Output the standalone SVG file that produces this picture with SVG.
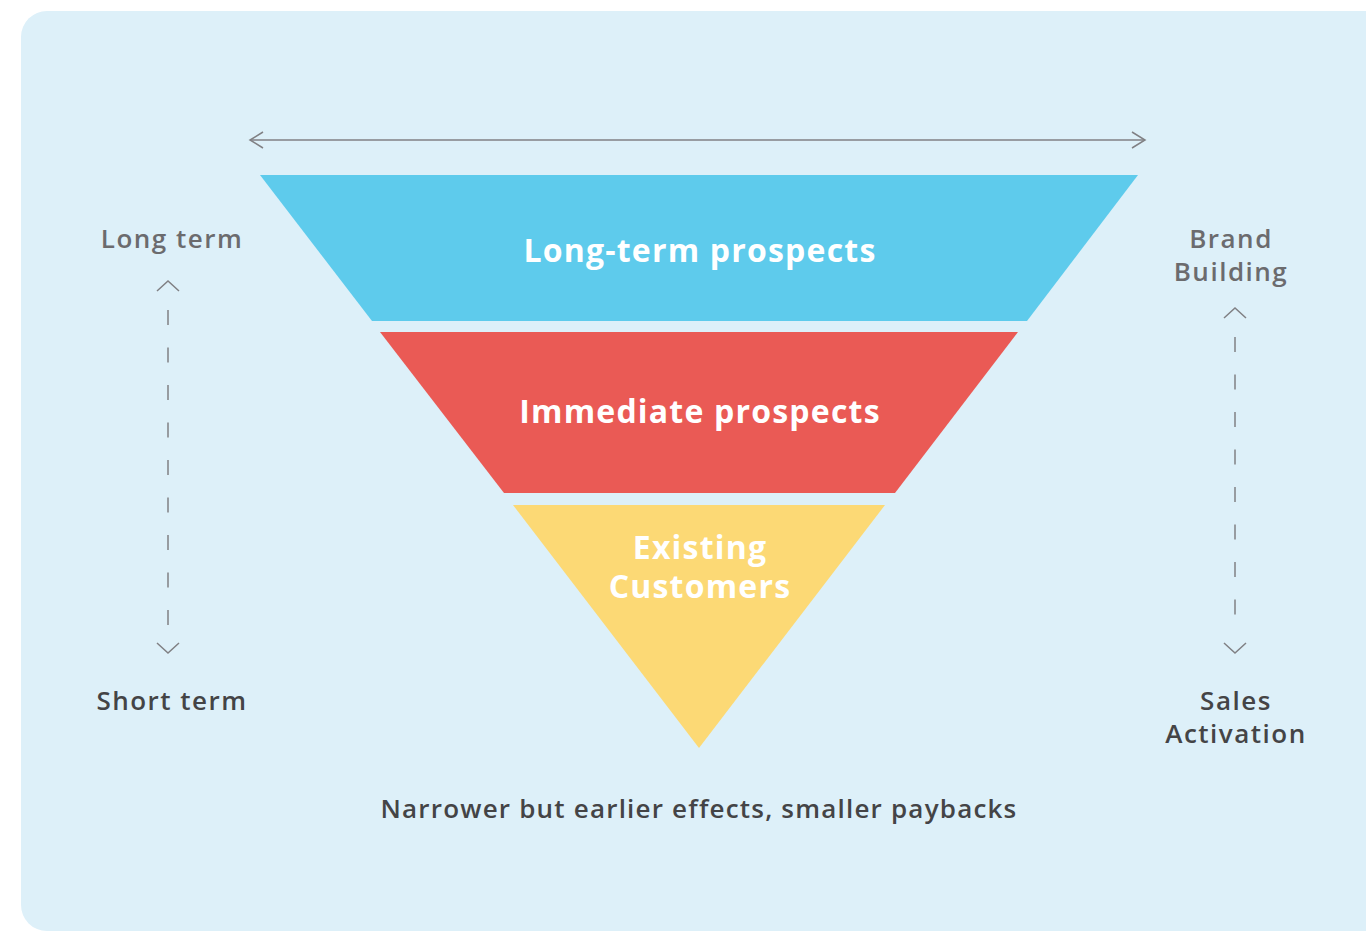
<svg xmlns="http://www.w3.org/2000/svg" width="1366" height="932" viewBox="0 0 1366 932">
  <defs>
    <style>
      .inner { font-family: "Open Sans", "Liberation Sans", sans-serif; font-weight: 700; font-size: 32px; letter-spacing: 1.2px; fill: #ffffff; text-anchor: middle; }
      .side { font-family: "Open Sans", "Liberation Sans", sans-serif; font-weight: 600; font-size: 26px; letter-spacing: 1.5px; text-anchor: middle; }
      .note { letter-spacing: 1.2px; }
      .soft { fill: #6b6b6e; }
      .dark { fill: #444446; }
      .axis { stroke: #808084; stroke-width: 1.5; fill: none; }
      .dash { stroke-dasharray: 15 22.5; }
    </style>
    <marker id="chev" viewBox="0 0 20 20" refX="17" refY="10" markerWidth="20" markerHeight="20" markerUnits="userSpaceOnUse" orient="auto-start-reverse">
      <path d="M4,2 L17,10 L4,18" stroke="#808084" stroke-width="1.5" fill="none"/>
    </marker>
  </defs>

  <!-- panel -->
  <rect x="21" y="11" width="1400" height="920" rx="26" fill="#ddf0f9"/>

  <!-- funnel layers -->
  <g id="layer-long">
    <polygon points="260,175 1138,175 1027,321 372,321" fill="#5ecbec"/>
    <text class="inner" x="700" y="262">Long-term prospects</text>
  </g>
  <g id="layer-immediate">
    <polygon points="380,332 1018,332 895,493 504,493" fill="#ea5a55"/>
    <text class="inner" x="700" y="423">Immediate prospects</text>
  </g>
  <g id="layer-existing">
    <polygon points="513,505 885,505 699,748" fill="#fcd975"/>
    <text class="inner" x="700" y="559">Existing</text>
    <text class="inner" x="700" y="598">Customers</text>
  </g>

  <!-- side labels -->
  <g id="label-long-term"><text class="side soft" x="172" y="248">Long term</text></g>
  <g id="label-short-term"><text class="side dark" x="172" y="710">Short term</text></g>
  <g id="label-brand"><text class="side soft" x="1231" y="248">Brand</text><text class="side soft" x="1231" y="281">Building</text></g>
  <g id="label-sales"><text class="side dark" x="1236" y="710">Sales</text><text class="side dark" x="1236" y="743">Activation</text></g>
  <g id="label-bottom"><text class="side dark note" x="699" y="818">Narrower but earlier effects, smaller paybacks</text></g>

  <!-- connectors -->
  <g id="connectors">
    <line class="axis" x1="250" y1="140" x2="1145" y2="140" marker-start="url(#chev)" marker-end="url(#chev)"/>
    <!-- left timescale: dashed shaft with open heads -->
    <path class="axis" d="M157,291 L168,281 L179,291 M157,643 L168,653 L179,643"/>
    <line class="axis dash" x1="168" y1="310" x2="168" y2="630"/>
    <!-- right objective scale -->
    <path class="axis" d="M1224,318 L1235,308 L1246,318 M1224,643 L1235,653 L1246,643"/>
    <line class="axis dash" x1="1235" y1="337" x2="1235" y2="630"/>
  </g>
</svg>
